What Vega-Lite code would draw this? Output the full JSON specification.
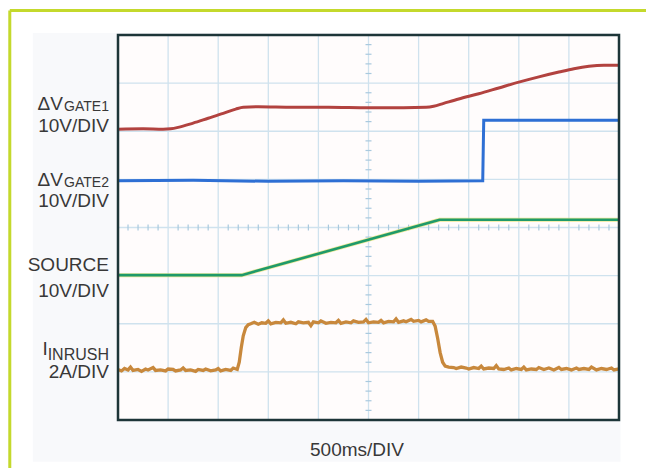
{
  "$schema": "https://vega.github.io/schema/vega-lite/v6.json",
  "width": 501,
  "height": 385,
  "autosize": {"type": "none"},
  "padding": {"left": 118, "top": 35, "right": 27, "bottom": 48},
  "background": "#ffffff",
  "config": {"view": {"stroke": null}},
  "datasets": {
    "frame": [{"x": -2.16, "x2": 14, "y": 8.51, "y2": 8.51}, {"x": -2.16, "x2": -2.16, "y": 8.51, "y2": -3}],
    "panel": [{"x": -1.7, "x2": 10.03, "y": 8.04, "y2": -0.87}],
    "plot": [{"x": 0, "x2": 10, "y": 0, "y2": 8}],
    "vgrid": [{"g": 1}, {"g": 2}, {"g": 3}, {"g": 4}, {"g": 5}, {"g": 6}, {"g": 7}, {"g": 8}, {"g": 9}],
    "hgrid": [{"g": 1}, {"g": 2}, {"g": 3}, {"g": 4}, {"g": 5}, {"g": 6}, {"g": 7}],
    "xticks": [{"t":0.2},{"t":0.4},{"t":0.6},{"t":0.8},{"t":1.2},{"t":1.4},{"t":1.6},{"t":1.8},{"t":2.2},{"t":2.4},{"t":2.6},{"t":2.8},{"t":3.2},{"t":3.4},{"t":3.6},{"t":3.8},{"t":4.2},{"t":4.4},{"t":4.6},{"t":4.8},{"t":5.2},{"t":5.4},{"t":5.6},{"t":5.8},{"t":6.2},{"t":6.4},{"t":6.6},{"t":6.8},{"t":7.2},{"t":7.4},{"t":7.6},{"t":7.8},{"t":8.2},{"t":8.4},{"t":8.6},{"t":8.8},{"t":9.2},{"t":9.4},{"t":9.6},{"t":9.8}],
    "yticks": [{"t":0.2},{"t":0.4},{"t":0.6},{"t":0.8},{"t":1.2},{"t":1.4},{"t":1.6},{"t":1.8},{"t":2.2},{"t":2.4},{"t":2.6},{"t":2.8},{"t":3.2},{"t":3.4},{"t":3.6},{"t":3.8},{"t":4.2},{"t":4.4},{"t":4.6},{"t":4.8},{"t":5.2},{"t":5.4},{"t":5.6},{"t":5.8},{"t":6.2},{"t":6.4},{"t":6.6},{"t":6.8},{"t":7.2},{"t":7.4},{"t":7.6},{"t":7.8}],
    "gate1": [{"x":0,"y":6.04},{"x":0.5,"y":6.05},{"x":0.9,"y":6.04},{"x":1.05,"y":6.05},{"x":1.2,"y":6.08},{"x":1.5,"y":6.17},{"x":1.8,"y":6.27},{"x":2.1,"y":6.37},{"x":2.35,"y":6.46},{"x":2.5,"y":6.5},{"x":2.8,"y":6.51},{"x":3.5,"y":6.5},{"x":4.2,"y":6.5},{"x":5.0,"y":6.49},{"x":5.7,"y":6.49},{"x":6.15,"y":6.5},{"x":6.3,"y":6.52},{"x":6.5,"y":6.58},{"x":6.8,"y":6.67},{"x":7.2,"y":6.78},{"x":7.6,"y":6.9},{"x":8.0,"y":7.02},{"x":8.4,"y":7.13},{"x":8.8,"y":7.23},{"x":9.1,"y":7.3},{"x":9.4,"y":7.35},{"x":9.7,"y":7.37},{"x":10,"y":7.37}],
    "gate2": [{"x":0,"y":4.97},{"x":1.5,"y":4.98},{"x":3,"y":4.96},{"x":4.5,"y":4.97},{"x":6,"y":4.96},{"x":7.28,"y":4.97},{"x":7.3,"y":6.23},{"x":8.5,"y":6.23},{"x":10,"y":6.23}],
    "source": [{"x":0,"y":3.01},{"x":2.47,"y":3.01},{"x":6.35,"y":4.14},{"x":6.42,"y":4.16},{"x":8,"y":4.16},{"x":10,"y":4.16}],
    "inrush": [{"x":0,"y":1.05},{"x":0.07,"y":1.02},{"x":0.13,"y":1.07},{"x":0.2,"y":1.04},{"x":0.25,"y":1.1},{"x":0.3,"y":1.03},{"x":0.4,"y":1.05},{"x":0.47,"y":1.01},{"x":0.55,"y":1.06},{"x":0.6,"y":1.04},{"x":0.7,"y":1.09},{"x":0.75,"y":1.03},{"x":0.85,"y":1.04},{"x":0.95,"y":1.02},{"x":1.0,"y":1.06},{"x":1.1,"y":1.05},{"x":1.15,"y":1.02},{"x":1.25,"y":1.04},{"x":1.3,"y":1.08},{"x":1.35,"y":1.03},{"x":1.45,"y":1.04},{"x":1.55,"y":1.01},{"x":1.6,"y":1.05},{"x":1.7,"y":1.03},{"x":1.75,"y":1.06},{"x":1.85,"y":1.02},{"x":1.95,"y":1.04},{"x":2.0,"y":1.07},{"x":2.05,"y":1.02},{"x":2.15,"y":1.05},{"x":2.25,"y":1.03},{"x":2.3,"y":1.08},{"x":2.38,"y":1.05},{"x":2.42,"y":1.2},{"x":2.46,"y":1.5},{"x":2.5,"y":1.75},{"x":2.55,"y":1.92},{"x":2.6,"y":1.98},{"x":2.65,"y":2.0},{"x":2.72,"y":2.03},{"x":2.8,"y":1.99},{"x":2.87,"y":2.02},{"x":2.95,"y":2.01},{"x":3.0,"y":2.06},{"x":3.05,"y":2.0},{"x":3.15,"y":2.03},{"x":3.25,"y":2.02},{"x":3.3,"y":2.08},{"x":3.35,"y":2.01},{"x":3.45,"y":2.03},{"x":3.55,"y":2.0},{"x":3.6,"y":2.04},{"x":3.7,"y":2.02},{"x":3.8,"y":2.03},{"x":3.85,"y":1.96},{"x":3.9,"y":2.04},{"x":4.0,"y":2.02},{"x":4.05,"y":2.06},{"x":4.15,"y":2.01},{"x":4.25,"y":2.03},{"x":4.35,"y":2.02},{"x":4.4,"y":2.07},{"x":4.45,"y":2.01},{"x":4.55,"y":2.04},{"x":4.65,"y":2.02},{"x":4.7,"y":2.06},{"x":4.8,"y":2.03},{"x":4.9,"y":2.04},{"x":4.95,"y":2.09},{"x":5.0,"y":2.02},{"x":5.1,"y":2.04},{"x":5.2,"y":2.03},{"x":5.25,"y":2.07},{"x":5.3,"y":2.02},{"x":5.4,"y":2.05},{"x":5.5,"y":2.04},{"x":5.55,"y":2.1},{"x":5.6,"y":2.03},{"x":5.7,"y":2.06},{"x":5.75,"y":2.04},{"x":5.85,"y":2.09},{"x":5.9,"y":2.05},{"x":6.0,"y":2.07},{"x":6.05,"y":2.04},{"x":6.15,"y":2.08},{"x":6.2,"y":2.05},{"x":6.28,"y":2.05},{"x":6.33,"y":1.95},{"x":6.38,"y":1.7},{"x":6.43,"y":1.4},{"x":6.48,"y":1.2},{"x":6.53,"y":1.12},{"x":6.6,"y":1.1},{"x":6.7,"y":1.09},{"x":6.75,"y":1.07},{"x":6.85,"y":1.1},{"x":6.95,"y":1.08},{"x":7.0,"y":1.06},{"x":7.1,"y":1.09},{"x":7.2,"y":1.07},{"x":7.25,"y":1.12},{"x":7.3,"y":1.06},{"x":7.4,"y":1.08},{"x":7.5,"y":1.07},{"x":7.55,"y":1.13},{"x":7.6,"y":1.06},{"x":7.7,"y":1.05},{"x":7.8,"y":1.08},{"x":7.85,"y":1.04},{"x":7.95,"y":1.07},{"x":8.05,"y":1.05},{"x":8.1,"y":1.1},{"x":8.15,"y":1.04},{"x":8.25,"y":1.06},{"x":8.35,"y":1.05},{"x":8.4,"y":1.09},{"x":8.5,"y":1.05},{"x":8.6,"y":1.08},{"x":8.7,"y":1.04},{"x":8.8,"y":1.09},{"x":8.85,"y":1.05},{"x":8.95,"y":1.07},{"x":9.05,"y":1.04},{"x":9.15,"y":1.08},{"x":9.2,"y":1.05},{"x":9.3,"y":1.07},{"x":9.4,"y":1.05},{"x":9.45,"y":1.1},{"x":9.55,"y":1.04},{"x":9.65,"y":1.07},{"x":9.75,"y":1.05},{"x":9.85,"y":1.08},{"x":9.9,"y":1.04},{"x":10,"y":1.06}],
    "bigLabels": [{"t":"ΔV","x":-1.1,"y":6.44},{"t":"10V/DIV","x":-0.18,"y":5.99},{"t":"ΔV","x":-1.1,"y":4.86},{"t":"10V/DIV","x":-0.18,"y":4.43},{"t":"SOURCE","x":-0.18,"y":3.1},{"t":"10V/DIV","x":-0.18,"y":2.56},{"t":"I","x":-1.4,"y":1.35},{"t":"2A/DIV","x":-0.18,"y":0.87}],
    "gateSubs": [{"t":"GATE1","x":-0.18,"y":6.43},{"t":"GATE2","x":-0.18,"y":4.85}],
    "inrushSub": [{"t":"INRUSH","x":-0.18,"y":1.25}],
    "xTitle": [{"t":"500ms/DIV","x":4.77,"y":-0.75}]
  },
  "layer": [
    {
      "data": {"name": "frame"},
      "mark": {"type": "rule", "color": "#c4d92c", "strokeWidth": 3, "clip": false},
      "encoding": {
        "x": {"field": "x", "type": "quantitative", "scale": {"domain": [0, 10], "nice": false, "zero": false}, "axis": null},
        "x2": {"field": "x2"},
        "y": {"field": "y", "type": "quantitative", "scale": {"domain": [0, 8], "nice": false, "zero": false}, "axis": null},
        "y2": {"field": "y2"}
      }
    },
    {
      "data": {"name": "panel"},
      "mark": {"type": "rect", "fill": "#f8f9fb", "clip": false},
      "encoding": {
        "x": {"field": "x", "type": "quantitative", "scale": {"domain": [0, 10], "nice": false, "zero": false}, "axis": null},
        "x2": {"field": "x2"},
        "y": {"field": "y", "type": "quantitative", "scale": {"domain": [0, 8], "nice": false, "zero": false}, "axis": null},
        "y2": {"field": "y2"}
      }
    },
    {
      "data": {"name": "plot"},
      "mark": {"type": "rect", "fill": "#fffcfc"},
      "encoding": {
        "x": {"field": "x", "type": "quantitative", "scale": {"domain": [0, 10], "nice": false, "zero": false}, "axis": null},
        "x2": {"field": "x2"},
        "y": {"field": "y", "type": "quantitative", "scale": {"domain": [0, 8], "nice": false, "zero": false}, "axis": null},
        "y2": {"field": "y2"}
      }
    },
    {
      "data": {"name": "vgrid"},
      "mark": {"type": "rule", "color": "#cfe2ee", "strokeWidth": 1.3},
      "encoding": {
        "x": {"field": "g", "type": "quantitative", "scale": {"domain": [0, 10], "nice": false, "zero": false}, "axis": null},
        "y": {"datum": 0, "type": "quantitative", "scale": {"domain": [0, 8], "nice": false, "zero": false}, "axis": null},
        "y2": {"datum": 8}
      }
    },
    {
      "data": {"name": "hgrid"},
      "mark": {"type": "rule", "color": "#cfe2ee", "strokeWidth": 1.3},
      "encoding": {
        "y": {"field": "g", "type": "quantitative", "scale": {"domain": [0, 8], "nice": false, "zero": false}, "axis": null},
        "x": {"datum": 0, "type": "quantitative", "scale": {"domain": [0, 10], "nice": false, "zero": false}, "axis": null},
        "x2": {"datum": 10}
      }
    },
    {
      "data": {"name": "xticks"},
      "mark": {"type": "rule", "color": "#a9c9de", "strokeWidth": 1.2},
      "encoding": {
        "x": {"field": "t", "type": "quantitative", "scale": {"domain": [0, 10], "nice": false, "zero": false}, "axis": null},
        "y": {"datum": 3.94, "type": "quantitative", "scale": {"domain": [0, 8], "nice": false, "zero": false}, "axis": null},
        "y2": {"datum": 4.06}
      }
    },
    {
      "data": {"name": "yticks"},
      "mark": {"type": "rule", "color": "#a9c9de", "strokeWidth": 1.2},
      "encoding": {
        "y": {"field": "t", "type": "quantitative", "scale": {"domain": [0, 8], "nice": false, "zero": false}, "axis": null},
        "x": {"datum": 4.94, "type": "quantitative", "scale": {"domain": [0, 10], "nice": false, "zero": false}, "axis": null},
        "x2": {"datum": 5.06}
      }
    },
    {
      "data": {"name": "gate1"},
      "mark": {"type": "line", "color": "#b2423f", "strokeWidth": 3, "interpolate": "monotone"},
      "encoding": {
        "x": {"field": "x", "type": "quantitative", "scale": {"domain": [0, 10], "nice": false, "zero": false}, "axis": null},
        "y": {"field": "y", "type": "quantitative", "scale": {"domain": [0, 8], "nice": false, "zero": false}, "axis": null}
      }
    },
    {
      "data": {"name": "gate2"},
      "mark": {"type": "line", "color": "#2e6fd4", "strokeWidth": 3},
      "encoding": {
        "x": {"field": "x", "type": "quantitative", "scale": {"domain": [0, 10], "nice": false, "zero": false}, "axis": null},
        "y": {"field": "y", "type": "quantitative", "scale": {"domain": [0, 8], "nice": false, "zero": false}, "axis": null}
      }
    },
    {
      "data": {"name": "source"},
      "mark": {"type": "line", "color": "#e6df6a", "strokeWidth": 4, "opacity": 0.7},
      "encoding": {
        "x": {"field": "x", "type": "quantitative", "scale": {"domain": [0, 10], "nice": false, "zero": false}, "axis": null},
        "y": {"field": "y", "type": "quantitative", "scale": {"domain": [0, 8], "nice": false, "zero": false}, "axis": null}
      }
    },
    {
      "data": {"name": "source"},
      "mark": {"type": "line", "color": "#1f9a6a", "strokeWidth": 2.6},
      "encoding": {
        "x": {"field": "x", "type": "quantitative", "scale": {"domain": [0, 10], "nice": false, "zero": false}, "axis": null},
        "y": {"field": "y", "type": "quantitative", "scale": {"domain": [0, 8], "nice": false, "zero": false}, "axis": null}
      }
    },
    {
      "data": {"name": "inrush"},
      "mark": {"type": "line", "color": "#c8883c", "strokeWidth": 3.3},
      "encoding": {
        "x": {"field": "x", "type": "quantitative", "scale": {"domain": [0, 10], "nice": false, "zero": false}, "axis": null},
        "y": {"field": "y", "type": "quantitative", "scale": {"domain": [0, 8], "nice": false, "zero": false}, "axis": null}
      }
    },
    {
      "data": {"name": "plot"},
      "mark": {"type": "rect", "fillOpacity": 0, "stroke": "#1d3538", "strokeWidth": 2.5, "clip": false},
      "encoding": {
        "x": {"field": "x", "type": "quantitative", "scale": {"domain": [0, 10], "nice": false, "zero": false}, "axis": null},
        "x2": {"field": "x2"},
        "y": {"field": "y", "type": "quantitative", "scale": {"domain": [0, 8], "nice": false, "zero": false}, "axis": null},
        "y2": {"field": "y2"}
      }
    },
    {
      "data": {"name": "bigLabels"},
      "mark": {"type": "text", "font": "Liberation Sans", "fontSize": 19, "align": "right", "baseline": "alphabetic", "color": "#383838", "clip": false},
      "encoding": {
        "x": {"field": "x", "type": "quantitative", "scale": {"domain": [0, 10], "nice": false, "zero": false}, "axis": null},
        "y": {"field": "y", "type": "quantitative", "scale": {"domain": [0, 8], "nice": false, "zero": false}, "axis": null},
        "text": {"field": "t"}
      }
    },
    {
      "data": {"name": "gateSubs"},
      "mark": {"type": "text", "font": "Liberation Sans", "fontSize": 14, "align": "right", "baseline": "alphabetic", "color": "#383838", "clip": false},
      "encoding": {
        "x": {"field": "x", "type": "quantitative", "scale": {"domain": [0, 10], "nice": false, "zero": false}, "axis": null},
        "y": {"field": "y", "type": "quantitative", "scale": {"domain": [0, 8], "nice": false, "zero": false}, "axis": null},
        "text": {"field": "t"}
      }
    },
    {
      "data": {"name": "inrushSub"},
      "mark": {"type": "text", "font": "Liberation Sans", "fontSize": 16, "align": "right", "baseline": "alphabetic", "color": "#383838", "clip": false},
      "encoding": {
        "x": {"field": "x", "type": "quantitative", "scale": {"domain": [0, 10], "nice": false, "zero": false}, "axis": null},
        "y": {"field": "y", "type": "quantitative", "scale": {"domain": [0, 8], "nice": false, "zero": false}, "axis": null},
        "text": {"field": "t"}
      }
    },
    {
      "data": {"name": "xTitle"},
      "mark": {"type": "text", "font": "Liberation Sans", "fontSize": 19, "align": "center", "baseline": "alphabetic", "color": "#383838", "clip": false},
      "encoding": {
        "x": {"field": "x", "type": "quantitative", "scale": {"domain": [0, 10], "nice": false, "zero": false}, "axis": null},
        "y": {"field": "y", "type": "quantitative", "scale": {"domain": [0, 8], "nice": false, "zero": false}, "axis": null},
        "text": {"field": "t"}
      }
    }
  ]
}
